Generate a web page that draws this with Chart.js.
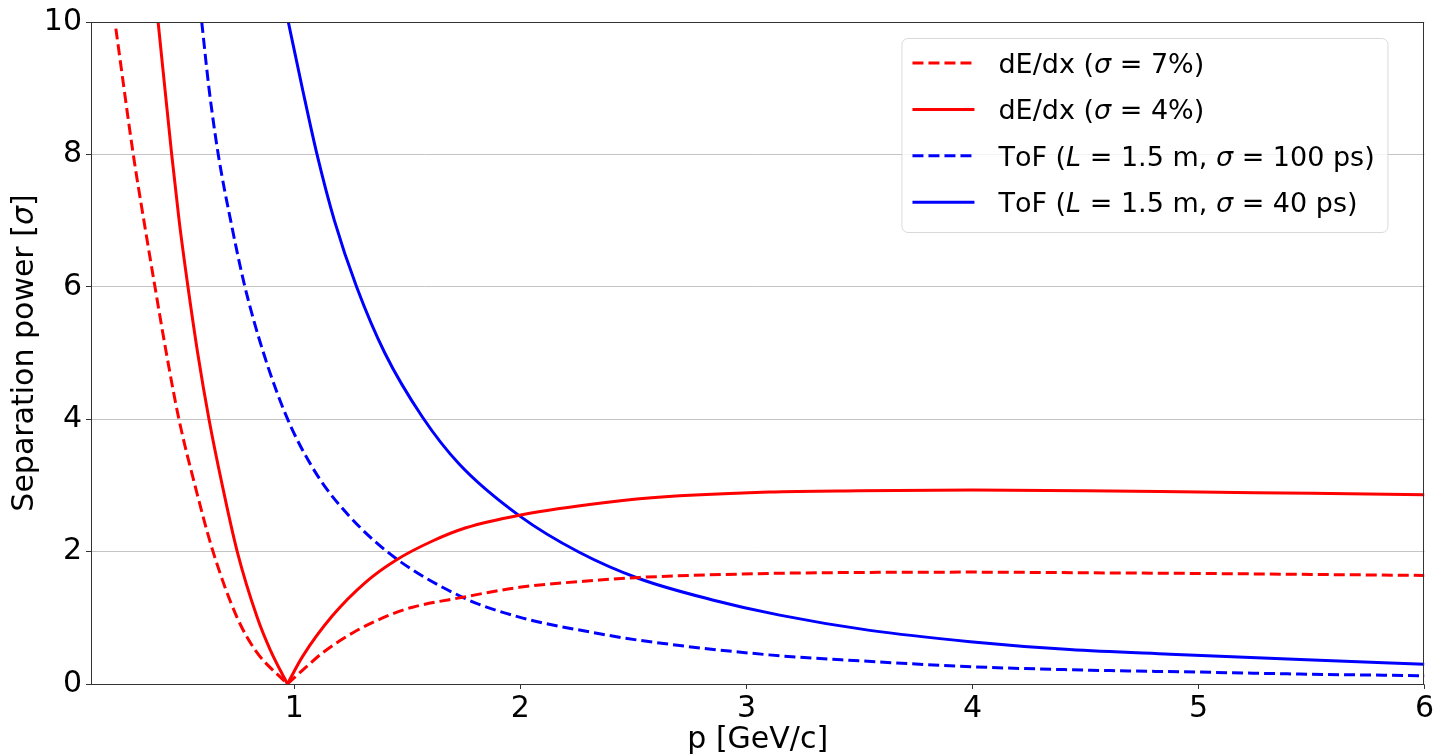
<!DOCTYPE html>
<html>
<head>
<meta charset="utf-8">
<script src="https://cdn.jsdelivr.net/npm/chart.js@4.4.1/dist/chart.umd.min.js"></script>
<style>
  html, body { margin: 0; padding: 0; background: #fff; }
  #wrap { width: 1436px; height: 755px; }
</style>
</head>
<body>
<div id="wrap"><canvas id="sepChart" width="1436" height="755"></canvas></div>
<script>
const xTicks = [1, 2, 3, 4, 5, 6];
const yTicks = [0, 2, 4, 6, 8, 10];

const seriesLabels = [
  'dE/dx (σ = 7%)',
  'dE/dx (σ = 4%)',
  'ToF (L = 1.5 m, σ = 100 ps)',
  'ToF (L = 1.5 m, σ = 40 ps)'
];
const xTitle = 'p [GeV/c]';
const yTitle = 'Separation power [σ]';

// dE/dx sigma = 7%, split at the crossing point near 1 GeV/c
const dedx7LowP   = [0.21, 0.287, 0.334, 0.383, 0.436, 0.489, 0.56, 0.64, 0.747, 0.829, 0.969];
const dedx7LowSep = [9.9, 8.0, 7.0, 6.0, 4.95, 4.0, 3.0, 2.0, 1.0, 0.5, 0];
const dedx7HighP   = [0.969, 1.05, 1.124, 1.272, 1.42, 1.523, 1.744, 1.995, 2.35, 2.527, 3.1, 3.5, 4.0, 4.5, 5.0, 5.5, 6.0];
const dedx7HighSep = [0, 0.25, 0.47, 0.80, 1.04, 1.16, 1.31, 1.46, 1.57, 1.61, 1.67, 1.685, 1.69, 1.68, 1.67, 1.655, 1.64];

// dE/dx sigma = 4%
const dedx4LowP   = [0.397, 0.457, 0.49, 0.529, 0.572, 0.622, 0.681, 0.747, 0.836, 0.895, 0.969];
const dedx4LowSep = [10, 8.0, 7.0, 6.0, 5.0, 4.0, 3.0, 2.0, 1.0, 0.5, 0];
const dedx4HighP   = [0.969, 1.035, 1.168, 1.316, 1.449, 1.611, 1.759, 1.996, 2.35, 2.527, 3.1, 3.5, 4.0, 4.5, 5.0, 5.5, 6.0];
const dedx4HighSep = [0, 0.41, 1.03, 1.54, 1.87, 2.16, 2.36, 2.55, 2.73, 2.80, 2.90, 2.92, 2.93, 2.92, 2.90, 2.88, 2.86];

// ToF L = 1.5 m, sigma = 100 ps
const tof100P   = [0.59, 0.622, 0.663, 0.718, 0.781, 0.868, 0.97, 1.08, 1.183, 1.41, 1.744, 1.995, 2.35, 2.527, 3.1, 3.5, 4.0, 4.5, 5.0, 5.45, 6.0];
const tof100Sep = [10, 9.0, 8.0, 7.0, 6.0, 4.95, 4.0, 3.27, 2.77, 2.0, 1.31, 1.01, 0.76, 0.66, 0.44, 0.35, 0.26, 0.21, 0.18, 0.15, 0.125];

// ToF L = 1.5 m, sigma = 40 ps
const tof40P   = [0.973, 1.035, 1.10, 1.177, 1.275, 1.40, 1.567, 1.73, 1.996, 2.26, 2.527, 2.85, 3.147, 3.546, 3.99, 4.43, 4.875, 5.45, 6.0];
const tof40Sep = [10, 9.0, 8.0, 7.0, 6.0, 5.0, 4.03, 3.32, 2.54, 1.99, 1.59, 1.27, 1.04, 0.81, 0.64, 0.52, 0.45, 0.37, 0.30];

const RED = '#ff0000';
const BLUE = '#0000ff';
const DASH = [11, 5];
const FONT = "'DejaVu Sans', 'Liberation Sans', sans-serif";

function pts(xs, ys) {
  return xs.map((x, i) => ({ x: x, y: ys[i] }));
}

function curve(label, xs, ys, color, dash, inLegend) {
  return {
    label: label,
    data: pts(xs, ys),
    borderColor: color,
    backgroundColor: color,
    borderWidth: 3,
    borderDash: dash,
    pointRadius: 0,
    fill: false,
    cubicInterpolationMode: 'monotone',
    inLegend: inLegend
  };
}

function fontFor(ch, size) {
  return ((ch === 'σ' || ch === 'L') ? 'oblique ' : '') + size + 'px ' + FONT;
}

function textWidth(ctx, str, size) {
  let w = 0;
  for (const ch of str) {
    ctx.font = fontFor(ch, size);
    w += ctx.measureText(ch).width;
  }
  return w;
}

// draw a string, with sigma and L in oblique as matplotlib mathtext does
function mathText(ctx, str, x, y, size) {
  let tx = x;
  for (const ch of str) {
    ctx.font = fontFor(ch, size);
    ctx.fillText(ch, tx, y);
    tx += ctx.measureText(ch).width;
  }
}

// matplotlib style box round the plot area, plus the y axis title
const framePlugin = {
  id: 'frame',
  afterDatasetsDraw(chart) {
    const a = chart.chartArea;
    const ctx = chart.ctx;
    ctx.save();
    ctx.strokeStyle = '#333333';
    ctx.lineWidth = 1;
    ctx.strokeRect(Math.round(a.left) + 0.5, Math.round(a.top) + 0.5,
      Math.round(a.right - a.left) - 1, Math.round(a.bottom - a.top));

    ctx.translate(25, (a.top + a.bottom) / 2);
    ctx.rotate(-Math.PI / 2);
    ctx.fillStyle = '#000';
    ctx.textBaseline = 'middle';
    const w = textWidth(ctx, yTitle, 30);
    mathText(ctx, yTitle, -w / 2, 0, 30);
    ctx.restore();
  }
};

// legend inside the plot
const insetLegend = {
  id: 'insetLegend',
  afterDraw(chart) {
    const ctx = chart.ctx;
    const a = chart.chartArea;
    const boxX = a.right - 523, boxY = a.top + 16, boxW = 486, boxH = 194;
    ctx.save();
    ctx.beginPath();
    ctx.roundRect(boxX + 0.5, boxY + 0.5, boxW, boxH, 6);
    ctx.fillStyle = 'rgba(255,255,255,0.8)';
    ctx.fill();
    ctx.strokeStyle = '#d9d9d9';
    ctx.lineWidth = 1;
    ctx.stroke();

    const entries = chart.data.datasets.filter(d => d.inLegend);
    entries.forEach((ds, i) => {
      const y = boxY + 25 + i * 46.4;
      ctx.beginPath();
      ctx.setLineDash(ds.borderDash || []);
      ctx.strokeStyle = ds.borderColor;
      ctx.lineWidth = 3;
      ctx.moveTo(boxX + 11, y);
      ctx.lineTo(boxX + 73, y);
      ctx.stroke();
      ctx.setLineDash([]);

      ctx.fillStyle = '#000';
      ctx.textBaseline = 'alphabetic';
      mathText(ctx, ds.label, boxX + 97, y + 10, 27);
    });
    ctx.restore();
  }
};

const datasets = [
  curve(seriesLabels[0], dedx7LowP, dedx7LowSep, RED, DASH, true),
  curve(seriesLabels[0], dedx7HighP, dedx7HighSep, RED, DASH, false),
  curve(seriesLabels[1], dedx4LowP, dedx4LowSep, RED, [], true),
  curve(seriesLabels[1], dedx4HighP, dedx4HighSep, RED, [], false),
  curve(seriesLabels[2], tof100P, tof100Sep, BLUE, DASH, true),
  curve(seriesLabels[3], tof40P, tof40Sep, BLUE, [], true)
];

new Chart(document.getElementById('sepChart').getContext('2d'), {
  type: 'line',
  data: { datasets: datasets },
  plugins: [framePlugin, insetLegend],
  options: {
    responsive: false,
    animation: false,
    devicePixelRatio: 1,
    layout: { padding: { top: 20, right: 11, left: 0, bottom: 0 } },
    plugins: {
      legend: { display: false },
      tooltip: { enabled: false }
    },
    scales: {
      x: {
        type: 'linear',
        min: 0.1,
        max: 6,
        afterFit: s => { s.height = 71; },
        afterBuildTicks: s => { s.ticks = xTicks.map(v => ({ value: v })); },
        grid: { drawOnChartArea: false, drawTicks: true, tickLength: 5, tickColor: '#333333' },
        border: { display: false },
        ticks: { color: '#000', padding: 2, font: { family: FONT, size: 30 }, maxRotation: 0 },
        title: {
          display: true,
          text: xTitle,
          color: '#000',
          font: { family: FONT, size: 30, lineHeight: 1 },
          padding: { top: 0, bottom: 0 }
        }
      },
      y: {
        min: 0,
        max: 10,
        afterFit: s => { s.width = 91; },
        afterBuildTicks: s => { s.ticks = yTicks.map(v => ({ value: v })); },
        grid: { color: '#c4c4c4', lineWidth: 1, drawTicks: true, tickLength: 5, tickColor: '#333333' },
        border: { display: false },
        ticks: { color: '#000', padding: 4, font: { family: FONT, size: 30 } }
      }
    }
  }
});
</script>
</body>
</html>
